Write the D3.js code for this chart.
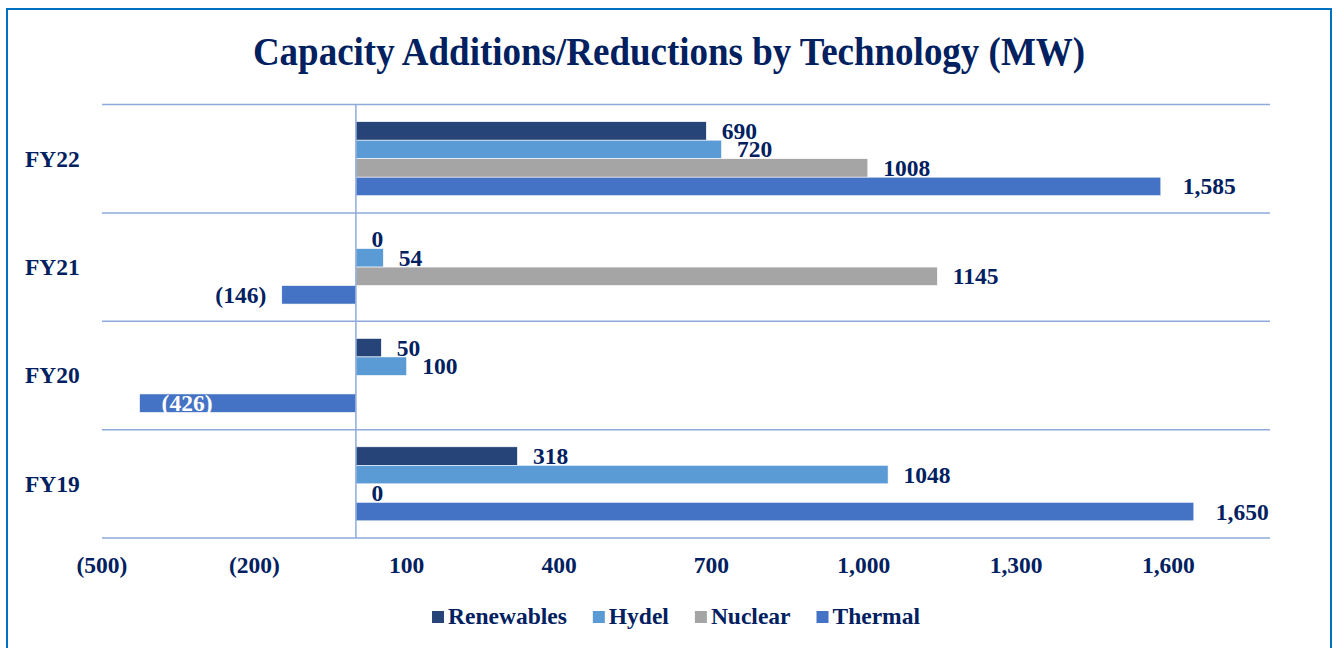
<!DOCTYPE html>
<html><head><meta charset="utf-8">
<script src="https://cdn.jsdelivr.net/npm/d3@7"></script>
<style>
html,body{margin:0;padding:0;background:#fff;}
svg{display:block;}
text{font-family:"Liberation Serif","Times New Roman",serif;font-weight:bold;fill:#002060;}
</style></head>
<body>
<script>
const categories = ["FY22", "FY21", "FY20", "FY19"];
const seriesNames = ["Renewables", "Hydel", "Nuclear", "Thermal"];
const renewables = [690, 0, 50, 318];
const hydel = [720, 54, 100, 1048];
const nuclear = [1008, 1145, null, 0];
const thermal = [1585, -146, -426, 1650];
const tickValues = [-500, -200, 100, 400, 700, 1000, 1300, 1600];
const colors = ["#264478", "#5b9bd5", "#a5a5a5", "#4472c4"];

const seriesValues = [renewables, hydel, nuclear, thermal];
const W = 1338, H = 648;
const svg = d3.select("body").append("svg").attr("width", W).attr("height", H);

// outer border
svg.append("rect").attr("x", 7).attr("y", 9).attr("width", 1324).attr("height", 700)
  .attr("fill", "none").attr("stroke", "#0070c0").attr("stroke-width", 2);

// title
svg.append("text").attr("transform", "translate(669,65) scale(1,1.1)").attr("text-anchor", "middle")
  .style("font-size", "37px").text("Capacity Additions/Reductions by Technology (MW)");

const x = d3.scaleLinear().domain([-500, 1800]).range([102, 1270]);
const y = d3.scaleBand().domain(categories).range([104.5, 538]).padding(0);
const barH = 18.5;
const ySub = d3.scaleBand().domain(seriesNames).range([(y.bandwidth() - barH * 4) / 2, (y.bandwidth() + barH * 4) / 2]).padding(0);

const grid = "#8eaadb";
const fmtParen = v => v < 0 ? "(" + d3.format(",")(-v) + ")" : d3.format(",")(v);
const fmtPlain = v => v < 0 ? "(" + (-v) + ")" : String(v);
const fontSize = "23.5px";

// horizontal gridlines at band boundaries
const bounds = categories.map(c => y(c)).concat([y.range()[1]]);
svg.append("g").selectAll("line").data(bounds).join("line")
  .attr("x1", x.range()[0]).attr("x2", x.range()[1])
  .attr("y1", d => d).attr("y2", d => d)
  .attr("stroke", grid).attr("stroke-width", 1.5);

// bars
const rows = [];
categories.forEach((c, i) => {
  seriesNames.forEach((s, j) => {
    const v = seriesValues[j][i];
    if (v === null) return;
    rows.push({cat: c, series: s, j, v});
  });
});

svg.append("g").selectAll("rect").data(rows).join("rect")
  .attr("x", d => x(Math.min(0, d.v)))
  .attr("width", d => Math.abs(x(d.v) - x(0)))
  .attr("y", d => y(d.cat) + ySub(d.series))
  .attr("height", barH)
  .attr("fill", d => colors[d.j])
  .attr("stroke", d => d.v === 0 ? "none" : "#ffffff").attr("stroke-width", 0.6);

// zero line
svg.append("line").attr("x1", x(0)).attr("x2", x(0))
  .attr("y1", y.range()[0]).attr("y2", y.range()[1])
  .attr("stroke", grid).attr("stroke-width", 1.5);

// data labels
const lab = svg.append("g");
rows.forEach(d => {
  const isThermal = d.series === "Thermal";
  const txt = isThermal ? fmtParen(d.v) : fmtPlain(d.v);
  const cy = y(d.cat) + ySub(d.series) + barH / 2 + 8;
  const t = lab.append("text").style("font-size", fontSize).attr("y", cy).text(txt);
  if (d.v >= 0) {
    t.attr("x", x(d.v) + (isThermal ? 22 : 15.5)).attr("text-anchor", "start");
  } else {
    const w = t.node().getComputedTextLength();
    if (x(d.v) - 15.5 - w < x.range()[0]) {
      t.attr("x", x(d.v) + 22).attr("text-anchor", "start").style("fill", "#ffffff");
    } else {
      t.attr("x", x(d.v) - 15.5).attr("text-anchor", "end");
    }
  }
});

// category labels
svg.append("g").selectAll("text").data(categories).join("text")
  .attr("x", 25).attr("y", d => y(d) + y.bandwidth() / 2 + 8)
  .style("font-size", fontSize).text(d => d);

// x axis tick labels
svg.append("g").selectAll("text").data(tickValues).join("text")
  .attr("x", d => x(d)).attr("y", 573).attr("text-anchor", "middle")
  .style("font-size", fontSize).text(d => fmtParen(d));

// legend
const leg = svg.append("g");
const items = seriesNames.map((s, i) => {
  const g = leg.append("g");
  g.append("rect").attr("width", 12).attr("height", 12).attr("y", 611).attr("fill", colors[i]);
  const t = g.append("text").attr("x", 16).attr("y", 624).style("font-size", fontSize).text(s);
  return {g, w: 16 + t.node().getComputedTextLength()};
});
const gap = 26;
const total = d3.sum(items, d => d.w) + gap * (items.length - 1);
let cx = 676 - total / 2;
items.forEach(it => { it.g.attr("transform", `translate(${cx},0)`); cx += it.w + gap; });
</script>
</body></html>
